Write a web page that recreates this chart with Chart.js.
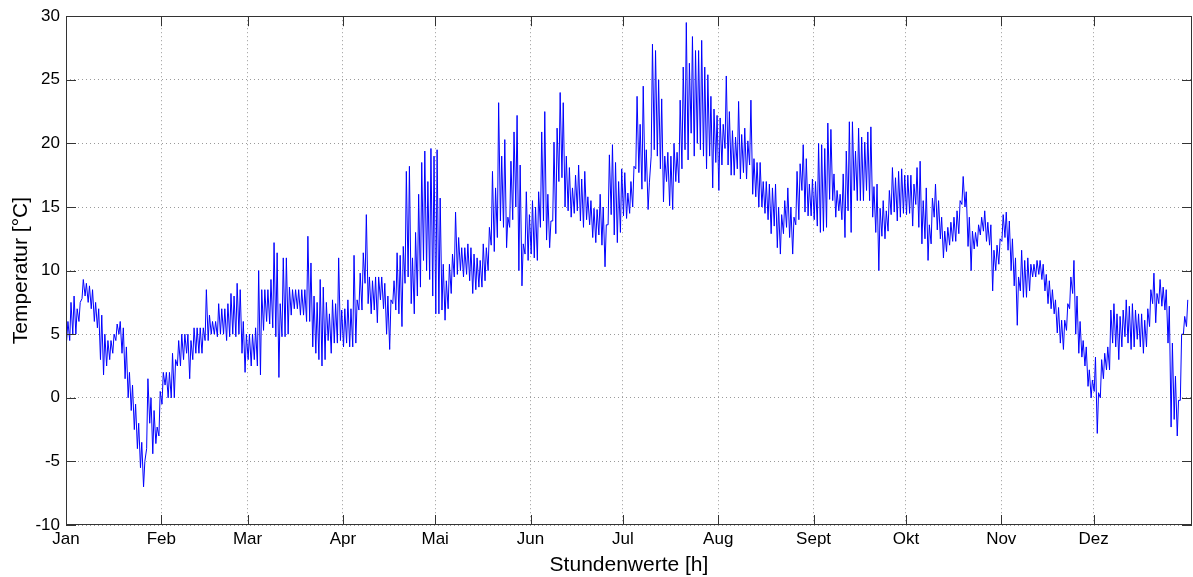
<!DOCTYPE html>
<html>
<head>
<meta charset="utf-8">
<script src="https://cdn.jsdelivr.net/npm/chart.js@4/dist/chart.umd.min.js"></script>
<style>
  html, body { margin: 0; padding: 0; background: #fff; }
</style>
</head>
<body>
<canvas id="tempChart" width="1193" height="577"></canvas>
<script>
const monthNames = ["Jan", "Feb", "Mar", "Apr", "Mai", "Jun", "Jul", "Aug", "Sept", "Okt", "Nov", "Dez"];
const monthDays = [31, 28, 31, 30, 31, 30, 31, 31, 30, 31, 30, 31];
const yTicks = [-10, -5, 0, 5, 10, 15, 20, 25, 30];

// daily [min, max] temperature in °C, one pair per day
const jan = [[4.5,6],[4.5,7.5],[5,8],[5,7],[6,7.5],[7.8,9.3],[8,9],[7.5,8.8],[7,8.5],[6,7.5],[5.5,7],[3,6.5],[1.8,5],[2.5,4.5],[3,4.5],[3.5,5],[4.5,5.8],[5,6],[3.5,5.5],[1.5,4],[0,2],[-1,1],[-2.5,-0.5],[-4,-2],[-5.5,-3.5],[-7,-5],[-4,1.5],[-2,0],[-4.4,-1],[-3.6,-2.3],[-3,0.5]];
const feb = [[-0.5,2],[1,2],[0,2],[0,3.5],[0,3],[2.5,4.5],[2.5,5],[3,5],[3.5,5],[1.5,4.5],[3,5.5],[3.5,5.5],[3.5,5.5],[3.5,5.5],[4.5,8.5],[4.5,6.5],[5,6],[5,6],[4.8,7.4],[5,7],[5,7],[4.5,7.4],[4.8,8.2],[5,8],[4.8,9],[5,8.5],[3.5,6],[2,5]];
const mar = [[3,5],[2.5,5],[3,5.5],[2.5,10],[1.8,8.5],[5.3,8.5],[6,8.5],[5.8,9.3],[5.5,12.2],[4.8,11.4],[1.6,7.4],[4.8,11],[4.8,11],[5,8.7],[6.5,8.5],[7,8.5],[7,8.5],[6.5,8.5],[6.5,8.5],[6,12.7],[6,10.6],[4,8],[3.5,7.5],[3,9.3],[2.5,8.7],[3,7.5],[4.5,6.6],[3.5,7.7],[4.3,7.4],[4.3,11],[4.5,6.9]];
const apr = [[4,7],[4.3,7.7],[4,7],[4,11.2],[4.3,7.7],[6.9,9.8],[6.9,11.4],[9,14.4],[7.4,9.5],[6.6,9.2],[6.9,9.5],[5.9,9.5],[7.7,9.5],[7,9],[5,8],[3.8,7.7],[7.4,9.2],[6.9,11.4],[6.6,11.2],[5.6,11.9],[9,17.8],[9.5,18.2],[7.4,11],[6.6,13],[8,16],[8.7,18.5],[10.8,19.4],[10,17],[9.3,19.6],[8,19]];
const mai = [[6.6,19.5],[6.6,15.7],[6.9,10.5],[6.1,9.2],[7,10.5],[8.2,11.3],[9.5,14.6],[9.7,12.6],[10,11.8],[9.5,11.8],[9.7,12.1],[9.2,11.8],[8.2,11.3],[8.5,11],[8.7,10.8],[8.7,12.1],[9.2,11.8],[10,13.4],[12,17.8],[11.5,16.5],[12.6,23.2],[13.9,19],[13.4,20.3],[11.8,14.2],[13.4,18.6],[14,20.9],[15,22.2],[10,18.3],[8.8,12.1],[11.3,16.2],[10.8,14.4]];
const jun = [[11.3,15.5],[11,15],[10.8,16.2],[13.4,20.9],[13.9,22.5],[12.4,16],[11.8,13.9],[13.9,20.1],[12.9,21.2],[17,24],[17.3,23.2],[15,19],[14.7,18.1],[14.2,16.5],[14.5,17.5],[14.7,18.3],[13.9,17.2],[13.4,17.8],[14,15.8],[13.6,15.5],[12.6,14.9],[12.2,14.8],[12.8,16],[12,15],[10.3,13.6],[13.6,19.1],[14.4,19.9],[12.8,18.5],[12.2,17],[13,18]];
const jul = [[14.3,17.7],[14.1,16.1],[14.5,17],[15,18.2],[18,23.7],[17.7,21.5],[16.4,24.5],[17,19.5],[14.8,16.9],[19,27.8],[19.5,27.3],[19,25],[18,23.5],[15.4,19],[17,19.3],[15.1,19],[14.8,20],[17,19.3],[16.9,23.4],[18,26],[19.5,29.5],[18.7,26.3],[20.8,28.4],[19,27.3],[20,27.3],[19.5,28.1],[19,26],[18,25.4],[19,23.7],[16.5,22.7],[18.5,22.2]];
const aug = [[16.3,22],[18.3,21.5],[19.6,25.3],[18.3,22.5],[17.5,21],[17.5,20.5],[18,23.3],[17.2,20.7],[17.7,21.2],[17.2,20.2],[18.3,23.4],[16,18.8],[15.8,18.5],[15,18.5],[15,17],[14.5,17],[14,16.8],[12.9,16.5],[13.5,16.8],[11.8,15],[11.3,14.4],[12.9,15.5],[13.4,16.5],[12.6,15],[11.3,14.2],[13.6,17.8],[14,18.4],[16.3,19.9],[14.6,18.8],[14.3,16.8],[14.3,17.2]];
const sep = [[14,17],[13.5,20],[13,19.9],[13.1,19.6],[13.4,21.6],[15.6,21.1],[15.5,17.6],[14.2,16.3],[14.7,16],[14,17.6],[12.6,19.4],[14.7,21.7],[13,21.7],[16.3,19.4],[15.5,21.2],[15.5,20.5],[15.5,20.1],[16.3,20.9],[15.5,21.3],[14.2,16.6],[13,16.8],[10,14.9],[12.7,15.5],[12.5,14.7],[13.1,16.3],[14.4,18.1],[14.6,17.3],[13.9,17.8],[14.2,18],[14.5,17.5]];
const okt = [[14.4,17.5],[14.5,17.5],[13.5,16.8],[15.2,18.1],[13.4,18.6],[12.1,15.5],[12.5,16.5],[10.8,13.6],[12.1,15.7],[14.2,16.8],[13.2,15.5],[12.5,14.2],[11,13.1],[11.5,13.4],[12,13.8],[12.3,14.2],[12.3,14.7],[12.9,15.5],[15.2,17.4],[15,16.2],[11.9,14.2],[10,13.1],[11.7,13],[11.9,13.6],[12.8,14.2],[13.1,14.7],[12.3,13.8],[12,13.6],[8.4,11.6],[10,12],[10.5,12.5]];
const nov = [[12.3,14.4],[12.6,14.6],[11.6,13.9],[10,12.5],[8.8,11],[5.7,9.5],[8.4,11.6],[7.9,10.8],[7.9,11],[8.4,10.5],[9.5,10.5],[9.5,10.8],[9.7,10.8],[9.3,10.5],[8.4,9.7],[7.4,9.2],[7,8.5],[6.6,7.7],[5.1,7.1],[4.3,6.1],[3.8,6.1],[5.3,7.4],[7,9.5],[8.2,10.8],[5,8],[3.5,6],[3.2,4.5],[2.5,4],[0.9,2.2],[0,1.4]];
const dez = [[0.5,3.2],[-2.8,0.4],[0,3],[1.5,3.5],[2.2,4],[2.2,6.9],[4.3,7.4],[4,6.6],[3,6.4],[4,6.9],[4.8,7.7],[4.3,7.2],[3.8,7.4],[4,6.9],[4.6,6.6],[4,6.6],[3.5,6.1],[4,7],[5.6,8.5],[7.4,9.8],[5.9,8.2],[7.4,9.3],[7.2,8.7],[6.9,8.5],[4.3,7.2],[-2.3,4.3],[-1.7,1.7],[-3,-0.2],[-0.2,5],[5,6.4],[5.6,7.7]];

const months = [jan, feb, mar, apr, mai, jun, jul, aug, sep, okt, nov, dez];

// hour of the year at which each month begins
const monthStartHours = [];
let acc = 0;
monthDays.forEach(d => { monthStartHours.push(acc * 24); acc += d; });

// early-morning minimum and afternoon maximum of every day
const hourly = [];
let dayIndex = 0;
months.forEach(m => {
  m.forEach(([lo, hi]) => {
    hourly.push({ x: dayIndex * 24 + 5, y: lo });
    hourly.push({ x: dayIndex * 24 + 15, y: hi });
    dayIndex++;
  });
});

const textColor = "#000";
const tickFont = { family: "'Liberation Sans', Arial, sans-serif", size: 17 };
const titleFont = { family: "'Liberation Sans', Arial, sans-serif", size: 21, lineHeight: 1 };

// frame around the plot plus short inward tick marks on all four sides
const axesFrame = {
  id: "axesFrame",
  afterDraw(chart) {
    const { ctx, chartArea: a, scales: { x, y } } = chart;
    const len = 10;
    ctx.save();
    ctx.strokeStyle = "#333";
    ctx.lineWidth = 1;
    ctx.beginPath();
    x.ticks.forEach(t => {
      const px = Math.round(x.getPixelForValue(t.value)) + 0.5;
      ctx.moveTo(px, a.bottom); ctx.lineTo(px, a.bottom - len);
      ctx.moveTo(px, a.top); ctx.lineTo(px, a.top + len);
    });
    y.ticks.forEach(t => {
      const py = Math.round(y.getPixelForValue(t.value)) + 0.5;
      ctx.moveTo(a.left, py); ctx.lineTo(a.left + len, py);
      ctx.moveTo(a.right, py); ctx.lineTo(a.right - len, py);
    });
    ctx.stroke();
    ctx.strokeRect(Math.round(a.left) + 0.5, Math.round(a.top) + 0.5,
                   Math.round(a.width) - 1, Math.round(a.height) - 1);
    ctx.restore();
  }
};

new Chart(document.getElementById("tempChart"), {
  type: "line",
  data: {
    datasets: [{
      data: hourly,
      borderColor: "#0000ff",
      borderWidth: 1,
      pointRadius: 0,
      tension: 0,
      fill: false
    }]
  },
  options: {
    responsive: false,
    animation: false,
    parsing: false,
    layout: { padding: { top: 15, right: 1, left: 0, bottom: 0 } },
    plugins: { legend: { display: false }, tooltip: { enabled: false } },
    scales: {
      x: {
        type: "linear",
        min: 0,
        max: 8784,
        afterFit: s => { s.height = 52; },
        afterBuildTicks: s => { s.ticks = monthStartHours.map(v => ({ value: v })); },
        ticks: {
          autoSkip: false,
          maxRotation: 0,
          padding: 4,
          color: textColor,
          font: tickFont,
          callback: v => monthNames[monthStartHours.indexOf(v)]
        },
        grid: { color: "#9a9a9a", lineWidth: 1, drawTicks: false },
        border: { display: false, dash: [1, 3] },
        title: {
          display: true,
          text: "Stundenwerte [h]",
          color: textColor,
          font: titleFont,
          padding: { top: 0, bottom: 1 }
        }
      },
      y: {
        min: -10,
        max: 30,
        afterFit: s => { s.width = 66; },
        afterBuildTicks: s => { s.ticks = yTicks.map(v => ({ value: v })); },
        ticks: { padding: 6, color: textColor, font: tickFont },
        grid: { color: "#9a9a9a", lineWidth: 1, drawTicks: false },
        border: { display: false, dash: [1, 3] },
        title: {
          display: true,
          text: "Temperatur [°C]",
          color: textColor,
          font: titleFont,
          padding: { top: 11, bottom: 0 }
        }
      }
    }
  },
  plugins: [axesFrame]
});
</script>
</body>
</html>
